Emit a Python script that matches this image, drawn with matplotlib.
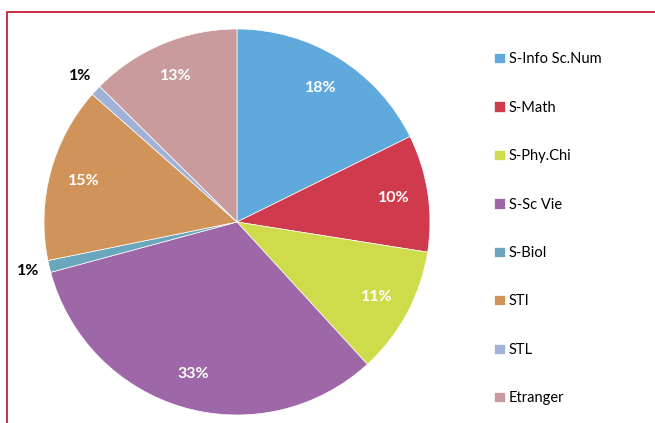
import matplotlib.pyplot as plt
from matplotlib.patches import Rectangle
import numpy as np

plt.rcParams['font.family'] = ['Lato', 'DejaVu Sans']

# parts de chaque filiere (%)
filieres = ['S-Info Sc.Num', 'S-Math', 'S-Phy.Chi', 'S-Sc Vie', 'S-Biol', 'STI', 'STL', 'Etranger']
parts = [17.7, 9.8, 10.7, 32.6, 1.0, 14.7, 0.9, 12.6]
couleurs = ['#5FA9DC', '#CF3A4C', '#CEDB4A', '#9E68A8', '#6BA7BC', '#D0935A', '#A0B2D8', '#C99B9C']

fig = plt.figure(figsize=(6.55, 4.23), dpi=100)
# cadre rouge (coupe a droite et en bas)
fig.patches.append(Rectangle((7 / 655, -0.05), 1.0, 1 - 12 / 423 + 0.05, transform=fig.transFigure,
                             fill=False, edgecolor='#C8203A', linewidth=1.3))

ax = fig.add_axes([44 / 655, 8 / 423, 386 / 655, 386 / 423])
wedges, texts, autotexts = ax.pie(parts, colors=couleurs, startangle=90, counterclock=False,
                                  autopct='%.0f%%', pctdistance=0.82,
                                  wedgeprops=dict(edgecolor='white', linewidth=0.5),
                                  textprops=dict(color='white', fontsize=11.5, fontweight='bold'))
ax.set_xlim(-1, 1)
ax.set_ylim(-1, 1)
ax.set_aspect('equal')

# petites parts : etiquette a l'exterieur en noir
for w, t in zip(wedges, autotexts):
    if w.theta2 - w.theta1 < 5:
        ang = np.deg2rad((w.theta1 + w.theta2) / 2)
        t.set_position((1.11 * np.cos(ang), 1.11 * np.sin(ang)))
        t.set_color('black')

leg = fig.legend(wedges, filieres, loc='upper left', bbox_to_anchor=(487 / 655, 1 - 45 / 423),
                 frameon=False, fontsize=10.5, handlelength=0.7, handleheight=0.7,
                 handletextpad=0.3, labelspacing=2.36, borderpad=0)

fig.savefig('out.png', dpi=100)
